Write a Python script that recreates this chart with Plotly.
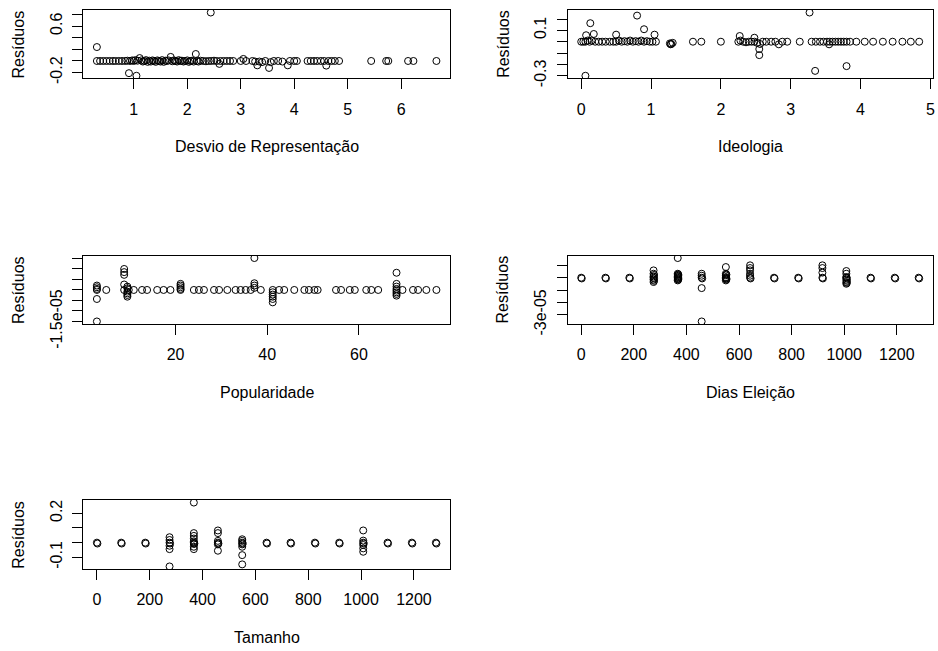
import plotly.graph_objects as go

# ---------------- data ----------------
desvio_x = [
    0.31, 0.31, 0.37, 0.43, 0.49, 0.55, 0.61, 0.66, 0.72, 0.78,
    0.84, 0.88, 0.91, 0.93, 0.97, 1.00, 1.03, 1.05, 1.07, 1.11,
    1.14, 1.17, 1.20, 1.23, 1.26, 1.29, 1.32, 1.35, 1.38, 1.41,
    1.44, 1.47, 1.50, 1.53, 1.56, 1.59, 1.62, 1.65, 1.69, 1.72,
    1.75, 1.78, 1.81, 1.84, 1.87, 1.90, 1.93, 1.96, 2.00, 2.03,
    2.06, 2.09, 2.12, 2.16, 2.18, 2.21, 2.25, 2.30, 2.35, 2.40,
    2.44, 2.45, 2.50, 2.55, 2.60, 2.62, 2.68, 2.74, 2.80, 2.86,
    3.00, 3.05, 3.10, 3.22, 3.27, 3.31, 3.35, 3.40, 3.46, 3.53,
    3.56, 3.62, 3.70, 3.78, 3.88, 3.92, 4.00, 4.05, 4.25, 4.31,
    4.37, 4.43, 4.50, 4.56, 4.60, 4.64, 4.70, 4.76, 4.84, 5.44,
    5.72, 5.76, 6.13, 6.23, 6.66]
desvio_res = [
    0.00, 0.24, 0.00, 0.00, 0.00, 0.00, 0.00, 0.00, 0.00, 0.00,
    0.00, 0.005, -0.21, 0.00, 0.01, 0.00, 0.015, -0.255, 0.005, 0.05,
    0.01, -0.01, 0.00, 0.015, -0.015, 0.005, -0.01, 0.01, 0.00, -0.015,
    0.01, 0.00, -0.01, 0.015, -0.015, 0.005, 0.00, 0.01, 0.07, -0.005,
    0.01, 0.00, -0.01, 0.015, 0.00, 0.005, -0.01, 0.00, 0.01, -0.015,
    0.00, 0.005, -0.01, 0.12, 0.00, -0.01, 0.005, 0.00, -0.005, 0.00,
    0.835, 0.00, 0.005, 0.00, -0.05, 0.00, 0.00, 0.00, 0.00, 0.00,
    0.00, 0.035, 0.00, 0.00, -0.01, -0.075, -0.01, -0.02, 0.00, -0.12,
    -0.02, 0.00, 0.00, -0.01, -0.075, 0.00, 0.00, 0.00, 0.00, 0.00,
    0.00, 0.00, 0.00, 0.00, -0.08, 0.00, 0.00, 0.00, 0.00, 0.00,
    0.00, 0.00, 0.00, 0.00, 0.00]

ideo_x = [
    0.00, 0.03, 0.06, 0.06, 0.07, 0.09, 0.12, 0.13, 0.15, 0.18,
    0.20, 0.25, 0.30, 0.35, 0.41, 0.46, 0.50, 0.50, 0.54, 0.58,
    0.62, 0.66, 0.70, 0.74, 0.78, 0.80, 0.82, 0.86, 0.90, 0.90,
    0.94, 0.98, 1.02, 1.05, 1.07, 1.27, 1.28, 1.29, 1.31, 1.60,
    1.72, 2.00, 2.25, 2.27, 2.28, 2.32, 2.36, 2.40, 2.44, 2.48,
    2.48, 2.52, 2.55, 2.55, 2.56, 2.60, 2.65, 2.72, 2.78, 2.83,
    2.88, 2.95, 3.13, 3.27, 3.30, 3.35, 3.36, 3.42, 3.47, 3.52,
    3.55, 3.56, 3.60, 3.64, 3.68, 3.72, 3.76, 3.80, 3.80, 3.85,
    3.94, 4.06, 4.18, 4.32, 4.46, 4.60, 4.72, 4.84]
ideo_res = [
    0.00, 0.00, -0.30, 0.00, 0.057, 0.01, 0.00, 0.163, 0.01, 0.068,
    0.00, 0.00, 0.00, 0.00, 0.00, 0.00, 0.00, 0.062, 0.01, 0.00,
    0.005, 0.00, 0.01, 0.00, 0.005, 0.23, 0.00, 0.01, 0.11, 0.00,
    0.005, 0.00, 0.00, 0.062, 0.00, -0.015, -0.023, -0.02, -0.01, 0.00,
    0.00, 0.00, 0.00, 0.05, 0.01, 0.00, -0.005, 0.00, 0.00, 0.035,
    0.00, -0.01, -0.065, -0.118, -0.02, 0.00, 0.00, 0.00, 0.00, -0.023,
    0.00, 0.00, 0.00, 0.257, 0.00, -0.257, 0.00, 0.00, 0.00, 0.00,
    -0.023, 0.00, 0.00, 0.00, 0.00, 0.00, 0.00, -0.215, 0.00, 0.00,
    0.00, 0.00, 0.00, 0.00, 0.00, 0.00, 0.00, 0.00]

pop_x = [
    2.85, 2.85, 2.85, 2.85, 2.85, 2.85, 4.9,
    8.8, 8.8, 8.8, 8.8, 8.8, 9.5, 9.5, 9.5, 9.5, 9.5, 9.5,
    9.8, 10.9, 12.7, 13.8, 16.0, 17.4, 18.9,
    21.1, 21.1, 21.1, 21.1, 21.1,
    24.0, 25.1, 26.2, 28.4, 29.5, 31.3, 33.1, 34.2, 35.3, 36.4,
    37.2, 37.2, 37.2, 37.2, 38.6,
    41.2, 41.2, 41.2, 41.2, 41.2, 41.2,
    42.6, 43.7, 45.9, 48.1, 49.1, 50.3, 51.0, 55.0, 56.1, 58.0,
    59.1, 61.6, 62.7, 64.2,
    68.2, 68.2, 68.2, 68.2, 68.2, 68.2, 68.2, 68.2,
    69.5, 71.8, 72.9, 74.7, 76.9]
pop_res = [
    2.1e-06, 1.3e-06, 5e-07, 0.0, -4.3e-06, -1.5e-05, 0.0,
    1.0e-05, 8.5e-06, 7.2e-06, 2.6e-06, 0.0, 1.6e-06, 8e-07, -8e-07, -1.6e-06, -2.4e-06, -3.2e-06,
    0.0, 0.0, 0.0, 0.0, 0.0, 0.0, 0.0,
    2.9e-06, 2.1e-06, 1.3e-06, 5e-07, 0.0,
    0.0, 0.0, 0.0, 0.0, 0.0, 0.0, 0.0, 0.0, 0.0, 0.0,
    1.52e-05, 3.2e-06, 2.1e-06, 1.0e-06, 0.0,
    0.0, -1.1e-06, -2.2e-06, -3.2e-06, -4.3e-06, -5.9e-06,
    0.0, 0.0, 0.0, 0.0, 0.0, 0.0, 0.0, 0.0, 0.0, 0.0,
    0.0, 0.0, 0.0, 0.0,
    8.2e-06, 2.9e-06, 1.6e-06, 5e-07, -3e-07, -1.1e-06, -1.9e-06, -2.7e-06,
    0.0, 0.0, 0.0, 0.0, 0.0]

dias_x = [
    0, 92, 183, 275, 367, 458, 550, 642, 733, 825, 917, 1008, 1100, 1192, 1283,
    2, 94, 185, 277, 369, 460, 552, 644, 735, 827, 919, 1010, 1102, 1194, 1285,
    275, 275, 275, 275, 275, 277, 277,
    367, 367, 367, 367, 367, 367, 369, 369, 369, 369,
    458, 458, 458, 458,
    550, 550, 550, 550, 550, 550, 552, 552,
    642, 642, 642, 642, 642,
    917, 917, 917,
    1008, 1008, 1008, 1008, 1008, 1008, 1010, 1010]
dias_res = [
    0, 0, 0, 0, 0, 0, 0, 0, 0, 0, 0, 0, 0, 0, 0,
    -6e-07, -6e-07, -6e-07, -6e-07, -6e-07, -6e-07, -6e-07, -6e-07,
    -6e-07, -6e-07, -6e-07, -6e-07, -6e-07, -6e-07, -6e-07,
    5.9e-06, 3.2e-06, 1.1e-06, -1.6e-06, -3.5e-06, 2.2e-06, -2.5e-06,
    1.59e-05, 3.2e-06, 2.2e-06, 1.1e-06, -1.1e-06, -2.2e-06, 2.7e-06, 1.6e-06, 5e-07, -1.6e-06,
    3.2e-06, 1.6e-06, -8.4e-06, -3.54e-05,
    8.6e-06, 3.2e-06, 1.9e-06, 5e-07, -8e-07, -2.2e-06, 2.5e-06, -1.5e-06,
    1.0e-05, 7.8e-06, 5.9e-06, 3.2e-06, 1.6e-06,
    1.0e-05, 7.8e-06, 4.1e-06,
    5.4e-06, 3.2e-06, 5e-07, -1.6e-06, -3.5e-06, -4.9e-06, -2.5e-06, -4.2e-06]

tam_x = [
    0, 92, 183, 275, 367, 458, 550, 642, 733, 825, 917, 1008, 1100, 1192, 1283,
    2, 94, 185, 277, 369, 460, 552, 644, 735, 827, 919, 1010, 1102, 1194, 1285,
    275, 275, 275, 275, 275,
    367, 367, 367, 367, 367, 367, 367, 367,
    458, 458, 458, 458, 458,
    550, 550, 550, 550, 550, 550,
    1008, 1008, 1008, 1008, 1008]
tam_res = [
    0, 0, 0, 0, 0, 0, 0, 0, 0, 0, 0, 0, 0, 0, 0,
    -0.006, -0.006, -0.006, -0.006, -0.006, -0.006, -0.006, -0.006,
    -0.006, -0.006, -0.006, -0.006, -0.006, -0.006, -0.006,
    0.037, 0.018, -0.021, -0.044, -0.162,
    0.273, 0.065, 0.046, 0.028, 0.009, -0.009, -0.028, -0.044,
    0.083, 0.065, 0.012, -0.012, -0.055,
    0.023, 0.012, -0.012, -0.028, -0.085, -0.148,
    0.083, 0.014, -0.016, -0.039, -0.062]

x_titles = ["Desvio de Representação", "Ideologia", "Popularidade", "Dias Eleição", "Tamanho"]
y_title = "Resíduos"

x_ticks = [
    [1, 2, 3, 4, 5, 6],
    [0, 1, 2, 3, 4, 5],
    [20, 40, 60],
    [0, 200, 400, 600, 800, 1000, 1200],
    [0, 200, 400, 600, 800, 1000, 1200],
]
y_ticks = [
    [-0.2, 0.0, 0.2, 0.4, 0.6, 0.8],
    [-0.3, -0.2, -0.1, 0.0, 0.1, 0.2],
    [-1.5e-05, -1e-05, -5e-06, 0.0, 5e-06, 1e-05, 1.5e-05],
    [-3e-05, -2e-05, -1e-05, 0.0, 1e-05],
    [-0.1, 0.0, 0.1, 0.2],
]
y_ticktext = [
    ["-0.2", "", "", "", "0.6", ""],
    ["-0.3", "", "", "", "0.1", ""],
    ["-1.5e-05", "", "", "", "", "", ""],
    ["-3e-05", "", "", "", ""],
    ["-0.1", "", "", "0.2"],
]

# ---------------- layout ----------------
W, H = 938, 651
FONT = "Liberation Sans, Arial, sans-serif"
# plot boxes in pixels: (left, right, top, bottom)
boxes = [
    (83.3, 450.0, 10.0, 78.3),
    (567.7, 932.7, 10.0, 78.3),
    (83.3, 450.0, 255.5, 324.0),
    (567.7, 932.7, 255.5, 324.0),
    (83.3, 450.0, 500.0, 569.0),
]
series = [
    (desvio_x, desvio_res),
    (ideo_x, ideo_res),
    (pop_x, pop_res),
    (dias_x, dias_res),
    (tam_x, tam_res),
]


def padded(v):
    lo, hi = min(v), max(v)
    d = (hi - lo) * 0.04
    return [lo - d, hi + d]


fig = go.Figure()
annotations = []
for i, ((xs, ys), (l, r, t, b)) in enumerate(zip(series, boxes)):
    n = "" if i == 0 else str(i + 1)
    fig.add_trace(go.Scatter(
        x=xs, y=ys, mode="markers", xaxis="x" + n, yaxis="y" + n,
        marker=dict(symbol="circle-open", size=7, color="black",
                    line=dict(width=1, color="black")),
        showlegend=False, hoverinfo="x+y"))
    common = dict(showline=True, mirror=True, linecolor="black", linewidth=1,
                  ticks="outside", ticklen=10, tickwidth=1, tickcolor="black",
                  showgrid=False, zeroline=False, automargin=False,
                  tickfont=dict(family=FONT, size=16, color="black"))
    fig.layout["xaxis" + n] = dict(
        domain=[l / W, r / W], anchor="y" + n, range=padded(xs),
        tickmode="array", tickvals=x_ticks[i],
        ticktext=[str(v) for v in x_ticks[i]], ticklabelstandoff=6, **common)
    fig.layout["yaxis" + n] = dict(
        domain=[1 - b / H, 1 - t / H], anchor="x" + n, range=padded(ys),
        tickmode="array", tickvals=y_ticks[i], ticktext=y_ticktext[i],
        tickangle=-90, ticklabelstandoff=4, **common)
    annotations.append(dict(
        text=x_titles[i], x=(l + r) / 2 / W, y=1 - (b + 68) / H,
        xref="paper", yref="paper", xanchor="center", yanchor="middle",
        showarrow=False, font=dict(family=FONT, size=16, color="black")))
    annotations.append(dict(
        text=y_title, x=(l - 65) / W, y=1 - (t + b) / 2 / H, textangle=-90,
        xref="paper", yref="paper", xanchor="center", yanchor="middle",
        showarrow=False, font=dict(family=FONT, size=16, color="black")))

fig.update_layout(
    width=W, height=H, margin=dict(l=0, r=0, t=0, b=0),
    paper_bgcolor="white", plot_bgcolor="white",
    annotations=annotations, font=dict(family=FONT, size=16, color="black"))

fig.write_html("out.html", config={"displayModeBar": False},
               post_script="document.body.style.margin='0';document.body.style.padding='0';")
